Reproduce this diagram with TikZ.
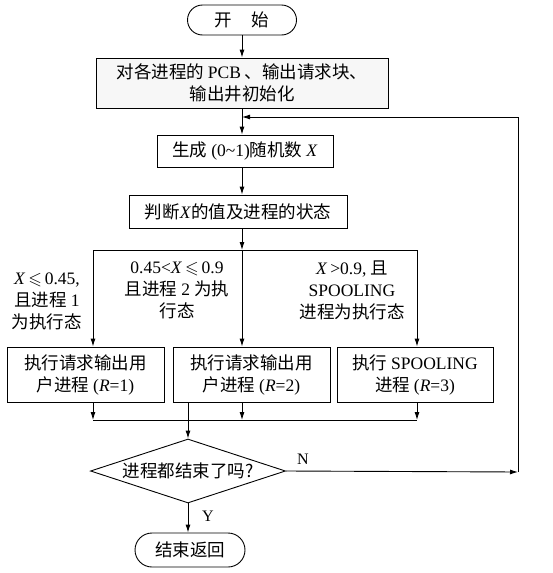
\documentclass[tikz,border=0pt]{standalone}
\usepackage{fontspec}
\usepackage{amssymb}
\setmainfont{Liberation Serif}
\newfontfamily\cjk{Noto Sans CJK SC}
\newcommand\latn[1]{{\rmfamily #1}}
\usetikzlibrary{shapes.geometric,arrows.meta}
\begin{document}
\begin{tikzpicture}[x=1pt,y=-1pt,
  every node/.style={font=\cjk\fontsize{17.5}{22}\selectfont},
  proc/.style={draw,line width=0.9pt,inner sep=0pt,align=center},
  term/.style={draw,line width=0.9pt,inner sep=0pt,align=center},
  cond/.style={align=center,inner sep=0pt},
  lbl/.style={inner sep=0pt,font=\rmfamily\fontsize{16}{18}\selectfont},
  conn/.style={line width=0.9pt},
  arr/.style={line width=0.9pt,-{Latex[length=8pt,width=5pt]}}]
\fill[white] (0,0) rectangle (553,573);
\useasboundingbox (0,0) rectangle (553,573);

\node[term,minimum width=109pt,minimum height=30pt,rounded corners=15pt] (start) at (242,20) {开\hspace{1.1em}始};
\node[proc,minimum width=292pt,minimum height=50pt,fill=gray!6] (init) at (242,83) {对各进程的 \latn{PCB} 、输出请求块、\\输出井初始化};
\node[proc,minimum width=176pt,minimum height=32pt] (gen) at (245,151) {生成 \latn{(0\textasciitilde 1)}随机数 \latn{\textit{X}}};
\node[proc,minimum width=218pt,minimum height=33pt] (judge) at (238,211.5) {判断\latn{\textit{X}}的值及进程的状态};

\node[proc,minimum width=157pt,minimum height=55pt] (pa) at (85.5,374.5) {执行请求输出用\\户进程 \latn{(\textit{R}=1)}};
\node[proc,minimum width=157pt,minimum height=55pt] (pb) at (251.5,374.5) {执行请求输出用\\户进程 \latn{(\textit{R}=2)}};
\node[proc,minimum width=156pt,minimum height=55pt] (pc) at (415,374.5) {执行 \latn{SPOOLING}\\进程 \latn{(\textit{R}=3)}};

\node[cond] (ca) at (47,301) {\latn{\textit{X}\,$\leqslant$\,0.45,}\\且进程 \latn{1}\\为执行态};
\node[cond] (cb) at (177,290) {\latn{0.45<\textit{X}\,$\leqslant$\,0.9}\\且进程 \latn{2} 为执\\行态};
\node[cond] (cc) at (352,290) {\latn{\textit{X}\,>0.9,} 且\\\latn{SPOOLING}\\进程为执行态};

\node[draw,diamond,aspect=3,line width=0.9pt,inner sep=0pt,minimum width=195pt,minimum height=64pt] (dia) at (188,471) {};
\node[inner sep=0pt] (diat) at (dia.center) {进程都结束了吗?};
\node[term,minimum width=110pt,minimum height=34pt,rounded corners=17pt] (fin) at (190,550) {结束返回};

\node[lbl] (nl) at (303,459) {N};
\node[lbl] (yl) at (208,516) {Y};

% coordinates
\coordinate (join) at (242,117);
\coordinate (loopT) at (518,117);
\coordinate (loopB) at (518,472);
\coordinate (split) at (242,250);
\coordinate (sl) at (93,250);
\coordinate (sr) at (417,250);
\coordinate (ml) at (93,420);
\coordinate (mm) at (242,420);
\coordinate (mr) at (417,420);

% main flow
\draw[arr] (start.south) -- (init.north);
\draw[arr] (init.south) -- (init.south |- gen.north);
\draw[arr] (init.south |- gen.south) -- (init.south |- judge.north);
\draw[arr] (init.south |- judge.south) -- (split);
\draw[conn] (sl) -- (sr);
\draw[arr] (split) -- (split |- pb.north);
\draw[arr] (sl) -- (sl |- pa.north);
\draw[arr] (sr) -- (sr |- pc.north);

\draw[arr] (ml |- pa.south) -- (ml);
\draw[arr] (mm |- pb.south) -- (mm);
\draw[arr] (mr |- pc.south) -- (mr);
\draw[conn] (ml) -- (mr);
\draw[arr] (dia.north |- pb.south) -- (dia.north);

\draw[arr] (dia.south) -- (dia.south |- fin.north);
\draw[arr] (dia.east) -- (loopB);
\draw[arr] (loopB) -- (loopT) -- (join);
\end{tikzpicture}
\end{document}
